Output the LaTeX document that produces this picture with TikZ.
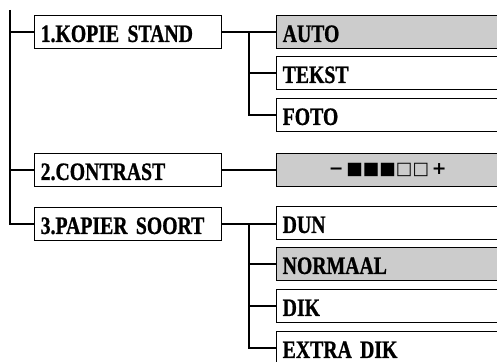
\documentclass[tikz,border=0pt]{standalone}
\usepackage{fontspec}
\newfontfamily\menufont{Liberation Serif Bold}[FakeStretch=0.79,FakeBold=0.8,WordSpace=0.7]
\newfontfamily\symbfont{DejaVu Sans Bold}
\usetikzlibrary{positioning}
\definecolor{selgray}{RGB}{204,204,204}
\tikzset{
  wire/.style={black,line width=1.5pt},
  box/.style={draw=black,line width=1.4pt,anchor=north west,minimum height=33pt,
              inner xsep=6pt,inner ysep=0pt},
  item/.style={box,align=left,text height=19.5pt,text depth=0pt,
               font=\menufont\fontsize{25}{26}\selectfont},
  menu/.style={item,text width=174.5pt},
  choice/.style={item,text width=210pt},
  chosen/.style={choice,fill=selgray},
  levelbar/.style={box,fill=selgray,text width=210pt,align=center,
                   font=\symbfont\fontsize{17.5}{18}\selectfont},
}

\begin{document}
\begin{tikzpicture}[x=1pt,y=-1pt]
  \path[use as bounding box] (0,0) rectangle (497,361);
  \clip (0,0) rectangle (497,361);

  % main menu
  \node[menu] (KS) at (34,15) {1.KOPIE STAND};
  \node[menu] (CO) at (34,153) {2.CONTRAST};
  \node[menu] (PS) at (34,207) {3.PAPIER SOORT};

  % settings
  \node[chosen] (AU) at (276,15) {AUTO};
  \node[choice] (TE) at (276,56) {TEKST};
  \node[choice] (FO) at (276,98) {FOTO};
  \node[levelbar] (CT) at (276,153) {−\,■■■□□\,+};
  \node[choice] (DU) at (276,206) {DUN};
  \node[chosen] (NO) at (276,247) {NORMAAL};
  \node[choice] (DI) at (276,289) {DIK};
  \node[choice] (ED) at (276,331) {EXTRA DIK};

  % trunk
  \coordinate (top) at (10,10);
  \draw[wire] (top) |- (PS.west);
  \draw[wire] (top |- KS.west) -- (KS.west);
  \draw[wire] (top |- CO.west) -- (CO.west);

  % branches
  \path (KS.east) ++(27,0) coordinate (J1);
  \draw[wire] (KS.east) -- (KS.east -| AU.west);
  \draw[wire] (J1) |- (TE.west);
  \draw[wire] (J1) |- (FO.west);
  \draw[wire] (CO.east) -- (CO.east -| CT.west);
  \path (PS.east) ++(27,0) coordinate (J3);
  \draw[wire] (PS.east) -- (PS.east -| DU.west);
  \draw[wire] (J3) |- (NO.west);
  \draw[wire] (J3) |- (DI.west);
  \draw[wire] (J3) |- (ED.west);
\end{tikzpicture}
\end{document}
